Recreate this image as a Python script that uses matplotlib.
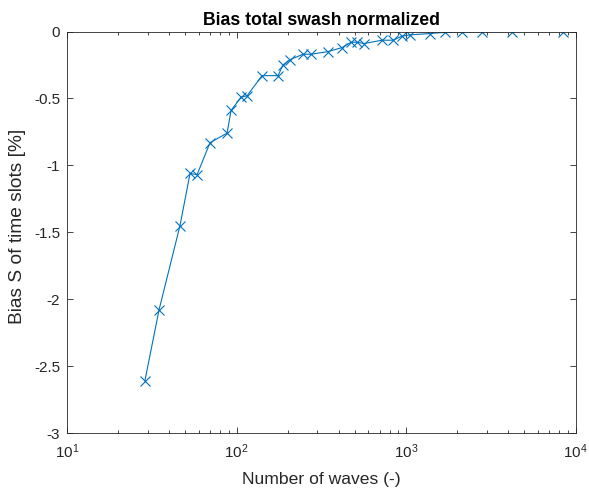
import matplotlib
matplotlib.use("Agg")
import matplotlib.pyplot as plt
from matplotlib.ticker import LogLocator, FixedLocator, FuncFormatter

# Wave counts and normalized bias of the total swash time slots
n_waves = [28.8, 34.9, 46.4, 53.2, 58.5, 69.8, 87.9, 92.9, 106.4, 115.4,
           141.4, 175.7, 188, 207, 247, 275, 347, 419, 474, 514,
           565, 721, 838, 946, 1056, 1386, 1700, 2139, 2806, 4217, 8433]
bias = [-2.61, -2.08, -1.45, -1.06, -1.07, -0.83, -0.76, -0.59, -0.49, -0.48,
        -0.33, -0.33, -0.25, -0.21, -0.17, -0.17, -0.15, -0.12, -0.08, -0.08,
        -0.09, -0.065, -0.065, -0.035, -0.025, -0.015, -0.006, -0.003, -0.002, -0.001, 0.0]

y_ticks = [-3, -2.5, -2, -1.5, -1, -0.5, 0]

plt.rcParams['font.family'] = ['Liberation Sans', 'DejaVu Sans']
plt.rcParams['mathtext.fontset'] = 'custom'
plt.rcParams['mathtext.rm'] = 'Liberation Sans'
plt.rcParams['mathtext.it'] = 'Liberation Sans:italic'

axis_grey = '#262626'

fig = plt.figure(figsize=(5.89, 4.90), dpi=100)
ax = fig.add_axes([0.1138, 0.1163, 0.8633, 0.8194])

ax.plot(n_waves, bias, color='#0072BD', linewidth=0.8, marker='x',
        markersize=6.5, markeredgewidth=0.8)

ax.set_xscale('log')
ax.set_xlim(10, 1e4)
ax.set_ylim(-3, 0)
ax.xaxis.set_major_locator(LogLocator(base=10, numticks=10))
ax.xaxis.set_minor_locator(LogLocator(base=10, subs=range(2, 10), numticks=20))
ax.yaxis.set_major_locator(FixedLocator(y_ticks))
ax.yaxis.set_major_formatter(FuncFormatter(lambda v, p: f"{v:g}"))

ax.tick_params(which='both', direction='in', top=True, right=True,
               colors=axis_grey, labelsize=11, labelcolor=axis_grey, width=0.6)
ax.tick_params(which='major', length=4)
ax.tick_params(which='minor', length=2)
ax.tick_params(axis='x', pad=7)
ax.tick_params(axis='y', pad=5)
for sp in ax.spines.values():
    sp.set_color(axis_grey)
    sp.set_linewidth(0.6)

ax.set_title('Bias total swash normalized', fontsize=12.7, fontweight='bold',
             color='black', pad=5)
ax.set_xlabel('Number of waves (-)', fontsize=12.6, color=axis_grey, labelpad=8)
ax.set_ylabel('Bias S of time slots [%]', fontsize=13.8, color=axis_grey)
ax.yaxis.set_label_coords(-0.08, 0.515)

fig.savefig('out.png', dpi=100)
